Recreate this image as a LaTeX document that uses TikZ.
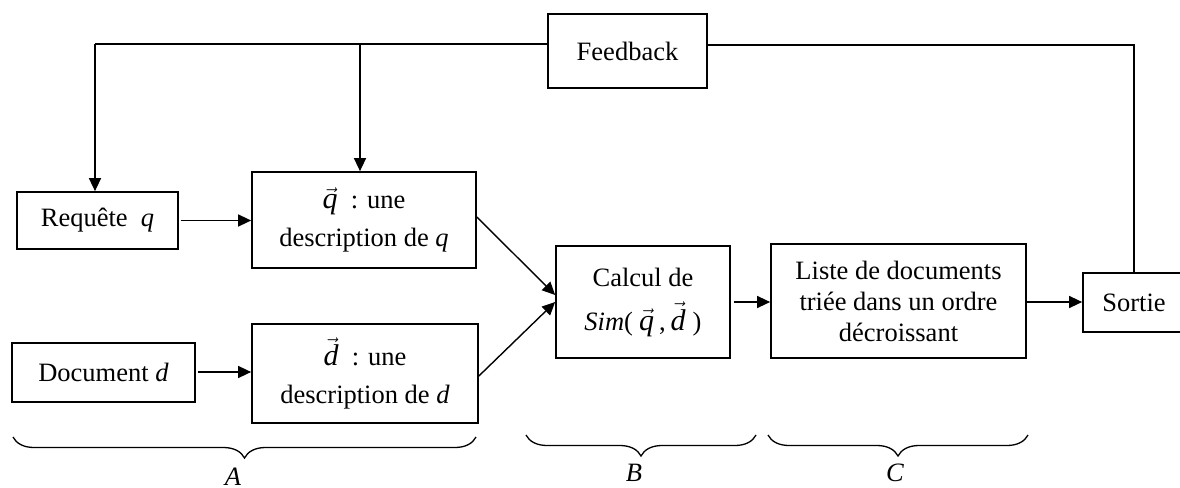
\documentclass[tikz,border=0pt]{standalone}
\usepackage{fontspec}
\setmainfont{Liberation Serif}
\usetikzlibrary{arrows.meta,decorations.pathreplacing}

% vector-style symbols in the text font, set a little larger
\newcommand{\vecsym}[1]{{\fontsize{30}{30}\selectfont\ensuremath{\vec{\hbox{\itshape #1}}}}}

\tikzset{
  box/.style={draw, line width=1.7pt, inner sep=0pt, align=center,
              font=\fontsize{26.5}{31}\selectfont},
  link/.style={line width=1.4pt},
  arrow/.style={link, -{Triangle[length=13pt,width=12pt]}},
  curly/.style={decorate, line width=1.3pt,
                decoration={brace, amplitude=21pt, mirror}},
  tag/.style={font=\fontsize{26.5}{31}\selectfont\itshape, inner sep=0pt}
}

\begin{document}
\begin{tikzpicture}[x=1pt, y=-1pt]
  \useasboundingbox (0,0) rectangle (1180,487);

  % blocks
  \node[box, minimum width=159pt, minimum height=74pt] (fb) at (627.5,51) {Feedback};
  \node[box, minimum width=161pt, minimum height=57pt] (req) at (97.5,220.5) {Requête~~\textit{q}};
  \node[box, minimum width=224pt, minimum height=96pt, font=\fontsize{26.5}{38}\selectfont] (qv) at (364,220)
    {\vecsym{q}~ : une\\description de \textit{q}};
  \node[box, minimum width=183pt, minimum height=59pt] (doc) at (103.5,372.5) {Document \textit{d}};
  \node[box, minimum width=226pt, minimum height=99pt, font=\fontsize{26.5}{38}\selectfont] (dv) at (365,373.5)
    {\vecsym{d}~ : une\\description de \textit{d}};
  \node[box, minimum width=174pt, minimum height=112pt, font=\fontsize{26.5}{44}\selectfont] (calc) at (643,302)
    {Calcul de\\\textit{Sim}(\kern6pt\vecsym{q}\kern5pt,\kern5pt\vecsym{d}\kern7pt)};
  \node[box, minimum width=255pt, minimum height=114pt] (liste) at (898.5,301)
    {Liste de documents\\triée dans un ordre\\décroissant};
  \node[box, minimum width=102pt, minimum height=59pt] (sortie) at (1134,302.5) {Sortie};

  % feedback loop corners
  \coordinate (tl) at (95,44);
  \coordinate (tm) at (360,44);
  \coordinate (tr) at (1134,45);

  % feedback lines
  \draw[link] (fb.west |- tl) -- (tl);
  \draw[arrow] (tl) -- (tl |- req.north);
  \draw[arrow] (tm) -- (tm |- qv.north);
  \draw[link] (fb.east |- tr) -- (tr) -- (sortie.north);

  % main flow
  \draw[arrow] ([xshift=2pt]req.east) -- (req.east -| qv.west);
  \draw[arrow] ([xshift=2pt]doc.east |- 0,372) -- (qv.west |- 0,372);
  \draw[arrow] ([yshift=3pt]qv.east) -- ([yshift=7pt]calc.west);
  \draw[arrow] ([yshift=-2.5pt]dv.east) -- (calc.west);
  \draw[arrow] ([xshift=3pt]calc.east) -- (calc.east -| liste.west);
  \draw[arrow] (liste.east |- calc.east) -- (sortie.west |- calc.east);

  % grouping braces
  \draw[curly] (13,437) -- (476,437);
  \draw[curly] (526,435) -- (756,435);
  \draw[curly] (768,435) -- (1028,435);
  \node[tag] (labA) at (233,477) {A};
  \node[tag] (labB) at (634,473) {B};
  \node[tag] (labC) at (895,473) {C};
\end{tikzpicture}
\end{document}
